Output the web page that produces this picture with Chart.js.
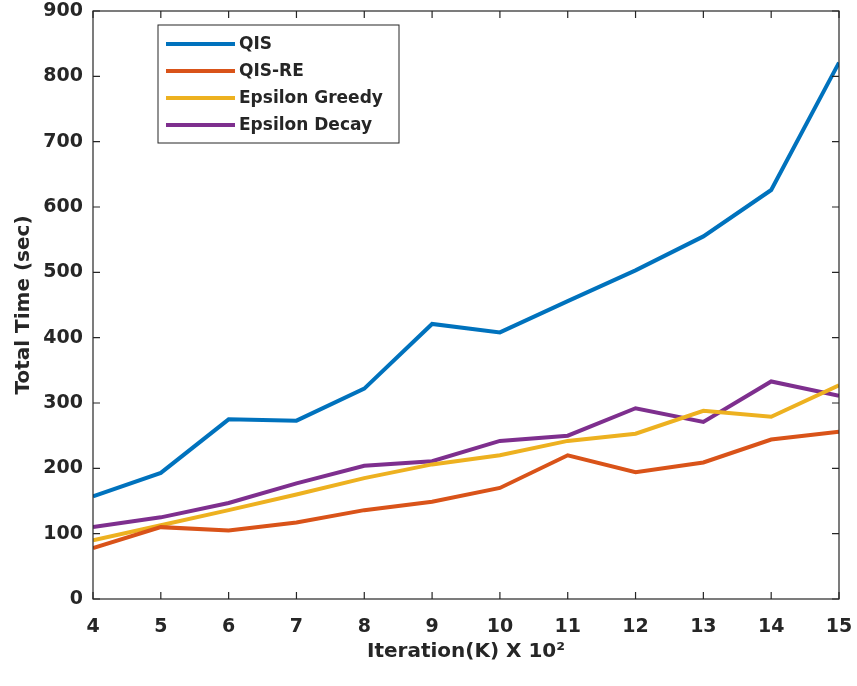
<!DOCTYPE html>
<html>
<head>
<meta charset="utf-8">
<script src="https://cdn.jsdelivr.net/npm/chart.js@4.4.1/dist/chart.umd.min.js"></script>
<style>
  html, body { margin: 0; padding: 0; background: #fff; }
  #wrap { width: 857px; height: 686px; }
</style>
</head>
<body>
<div id="wrap"><canvas id="time_chart"></canvas></div>
<script>
// iterations (x 10^2)
const iterations = [4, 5, 6, 7, 8, 9, 10, 11, 12, 13, 14, 15];
const qisTime = [157, 193, 275, 273, 322, 421, 408, 456, 503, 555, 626, 821];
const qisReTime = [78, 110, 105, 117, 136, 149, 170, 220, 194, 209, 244, 256];
const greedyTime = [90, 113, 136, 160, 185, 206, 220, 242, 253, 288, 279, 327];
const decayTime = [110, 125, 147, 177, 204, 211, 242, 250, 292, 271, 333, 311];
const yTicks = [0, 100, 200, 300, 400, 500, 600, 700, 800, 900];

const textColor = "#262626";
const fontFamily = "'DejaVu Sans', 'Liberation Sans', sans-serif";

function toPoints(arr) {
    let pts = new Array();
    for (let i = 0; i < iterations.length; i++) {
        pts.push({x: iterations[i], y: arr[i]});
    }
    return pts;
}

function lineSet(label, arr, color) {
    return {
        label: label,
        data: toPoints(arr),
        borderColor: color,
        backgroundColor: color,
        borderWidth: 4,
        pointRadius: 0,
        tension: 0,
        fill: false
    };
}

// matlab style box with inward ticks + legend inside the axes
const matlabBox = {
    id: "matlabBox",
    afterDatasetsDraw(chart) {
        const ctx = chart.ctx;
        const a = chart.chartArea;
        const xs = chart.scales.x;
        const ys = chart.scales.y;
        const tl = 7;
        ctx.save();
        ctx.strokeStyle = textColor;
        ctx.lineWidth = 1.2;
        ctx.strokeRect(a.left, a.top, a.right - a.left, a.bottom - a.top);
        ctx.beginPath();
        iterations.forEach(function (v) {
            let px = xs.getPixelForValue(v);
            ctx.moveTo(px, a.bottom); ctx.lineTo(px, a.bottom - tl);
            ctx.moveTo(px, a.top); ctx.lineTo(px, a.top + tl);
        });
        yTicks.forEach(function (v) {
            let py = ys.getPixelForValue(v);
            ctx.moveTo(a.left, py); ctx.lineTo(a.left + tl, py);
            ctx.moveTo(a.right, py); ctx.lineTo(a.right - tl, py);
        });
        ctx.stroke();

        // legend
        const bx = a.left + 65, by = a.top + 14, bw = 241, bh = 118;
        ctx.fillStyle = "#fff";
        ctx.fillRect(bx, by, bw, bh);
        ctx.strokeStyle = textColor;
        ctx.lineWidth = 1;
        ctx.strokeRect(bx, by, bw, bh);
        ctx.font = "bold 17px " + fontFamily;
        ctx.textBaseline = "middle";
        chart.data.datasets.forEach(function (ds, i) {
            let cy = by + 19 + i * 27;
            ctx.strokeStyle = ds.borderColor;
            ctx.lineWidth = 4;
            ctx.beginPath();
            ctx.moveTo(bx + 8, cy);
            ctx.lineTo(bx + 77, cy);
            ctx.stroke();
            ctx.fillStyle = textColor;
            ctx.fillText(ds.label, bx + 81, cy + 1);
        });
        ctx.restore();
    }
};

new Chart("time_chart", {
    type: "line",
    data: {
        datasets: [
            lineSet("QIS", qisTime, "#0072BD"),
            lineSet("QIS-RE", qisReTime, "#D95319"),
            lineSet("Epsilon Greedy", greedyTime, "#EDB120"),
            lineSet("Epsilon Decay", decayTime, "#7E2F8E")
        ]
    },
    options: {
        responsive: true,
        maintainAspectRatio: false,
        animation: false,
        layout: {padding: {left: 12, right: 18, top: 11, bottom: 8}},
        plugins: {
            legend: {display: false},
            title: {display: false},
            tooltip: {enabled: false}
        },
        scales: {
            x: {
                type: "linear",
                min: 4,
                max: 15,
                grid: {display: false, drawTicks: false},
                border: {display: false},
                afterBuildTicks: function (s) {
                    s.ticks = iterations.map(function (v) { return {value: v}; });
                },
                ticks: {
                    color: textColor,
                    padding: 17,
                    maxRotation: 0,
                    font: {family: fontFamily, size: 19, weight: "bold"}
                },
                title: {
                    display: true,
                    text: "Iteration(K) X 10\u00B2",
                    color: textColor,
                    padding: {top: 0, bottom: 14},
                    font: {family: fontFamily, size: 20, weight: "bold"}
                },
                afterFit: function (s) {
                    s.height = 79;
                    s.paddingLeft = 0;
                    s.paddingRight = 0;
                }
            },
            y: {
                min: 0,
                max: 900,
                grid: {display: false, drawTicks: false},
                border: {display: false},
                afterBuildTicks: function (s) {
                    s.ticks = yTicks.map(function (v) { return {value: v}; });
                },
                ticks: {
                    color: textColor,
                    padding: 10,
                    font: {family: fontFamily, size: 19, weight: "bold"}
                },
                title: {
                    display: true,
                    text: "Total Time (sec)",
                    color: textColor,
                    padding: {top: 0, bottom: 6},
                    font: {family: fontFamily, size: 20, weight: "bold"}
                },
                afterFit: function (s) {
                    s.width = 81;
                    s.paddingTop = 0;
                    s.paddingBottom = 0;
                }
            }
        }
    },
    plugins: [matlabBox]
});
</script>
</body>
</html>
